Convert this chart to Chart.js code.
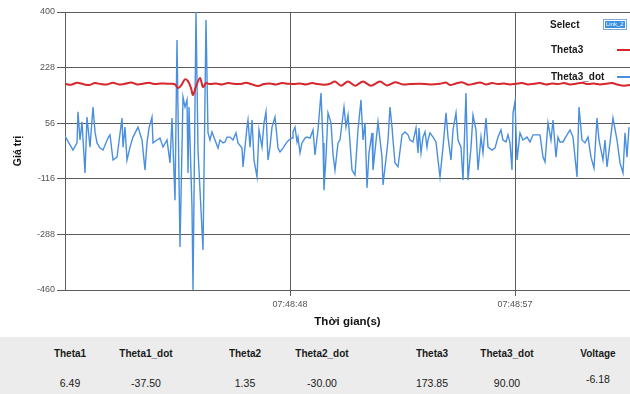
<!DOCTYPE html>
<html>
<head>
<meta charset="utf-8">
<script src="https://cdn.jsdelivr.net/npm/chart.js@4/dist/chart.umd.min.js"></script>
<style>
  html, body { margin: 0; padding: 0; background: #fff; }
  #wrap { position: relative; width: 630px; height: 394px; overflow: hidden;
          font-family: 'Liberation Sans Narrow', 'Liberation Sans', Arial, sans-serif; }
  #chart { position: absolute; left: 0; top: 0; }
  .lg { position: absolute; font-weight: bold; font-size: 10px; line-height: 12px; color: #1a1a1a; white-space: nowrap; }
  .sw { position: absolute; left: 617px; width: 14px; height: 2px; }
  #sel { position: absolute; left: 603px; top: 19px; width: 24px; height: 11px; border: 1px solid #7ea6d8;
         background: #fff; box-sizing: border-box; padding: 1px; }
  #sel span { display: block; height: 100%; background: #3b8fe4; color: #fff; font-size: 6px; line-height: 7px; padding-left: 1px; }
  #panel { position: absolute; left: 0; top: 337px; width: 630px; height: 57px; background: #ececec; }
  .cell { position: absolute; transform: translateX(-50%); white-space: nowrap; color: #1a1a1a; }
  .hd { font-weight: bold; font-size: 10px; top: 11px; }
  .vl { font-size: 10.5px; top: 40px; }
</style>
</head>
<body>
<div id="wrap">
  <canvas id="chart" width="630" height="338"></canvas>
  <div class="lg" style="left:550px;top:19px">Select</div>
  <div id="sel"><span>Link_2</span></div>
  <div class="lg" style="left:551px;top:44px">Theta3</div>
  <div class="sw" style="top:49px;background:#d7262c"></div>
  <div class="lg" style="left:551px;top:71px">Theta3_dot</div>
  <div class="sw" style="top:76px;background:#4a8fdf"></div>
  <div id="panel"></div>
</div>
<script>
// Theta3_dot samples: time (seconds after 07:48:00) and value
const theta3DotTime = [
  39.00,39.32,39.48,39.52,39.60,39.68,39.80,39.88,40.00,40.12,
  40.20,40.28,40.40,40.52,40.72,40.80,40.92,41.08,41.28,41.32,
  41.40,41.48,41.60,41.72,41.92,42.08,42.20,42.28,42.36,42.48,
  42.52,42.68,42.80,42.92,43.08,43.20,43.28,43.40,43.48,43.60,
  43.72,43.80,43.88,43.92,43.96,44.08,44.12,44.24,44.32,44.52,
  44.64,44.72,44.80,44.88,45.00,45.12,45.20,45.32,45.40,45.48,
  45.60,45.72,45.84,45.92,46.08,46.12,46.28,46.32,46.40,46.48,
  46.56,46.68,46.76,46.88,46.96,47.04,47.12,47.20,47.28,47.40,
  47.48,47.52,47.60,47.72,47.88,47.96,48.08,48.12,48.20,48.28,
  48.32,48.40,48.48,48.60,48.68,48.80,48.92,49.00,49.12,49.24,
  49.32,49.36,49.44,49.52,49.64,49.72,49.80,49.92,50.00,50.16,
  50.24,50.32,50.48,50.60,50.72,50.84,50.92,51.00,51.08,51.16,
  51.28,51.32,51.48,51.52,51.68,51.72,51.88,51.92,52.00,52.08,
  52.12,52.20,52.32,52.48,52.60,52.72,52.80,52.92,53.04,53.12,
  53.16,53.24,53.32,53.40,53.48,53.52,53.60,53.72,53.84,53.92,
  54.00,54.12,54.24,54.32,54.44,54.52,54.64,54.72,54.84,54.92,
  55.04,55.12,55.24,55.32,55.44,55.52,55.64,55.72,55.84,55.92,
  56.08,56.20,56.32,56.44,56.52,56.64,56.72,56.80,56.88,56.92,
  57.00,57.08,57.20,57.32,57.48,57.60,57.72,57.88,58.00,58.12,
  58.20,58.32,58.44,58.52,58.64,58.72,58.80,58.92,59.08,59.20,
  59.32,59.48,59.56,59.68,59.80,59.92,60.04,60.16,60.28,60.36,
  60.52,60.60,60.68,60.80,60.92,61.08,61.20,61.32,61.40,61.48,
  61.56
];
const theta3DotValue = [
  16,-27,-5,91,4,60,-98,75,-18,106,
  29,-5,-21,-27,10,20,-58,-49,72,-18,
  44,-58,-18,13,44,4,-89,-5,41,75,
  -5,4,10,-18,4,-67,72,-182,313,-327,
  137,106,128,-98,106,-203,-460,400,-27,-336,
  375,26,4,29,4,-21,4,-5,-2,13,
  13,4,26,-5,-21,-79,44,66,-18,66,
  -58,-110,35,-18,57,91,-58,-18,44,75,
  13,-21,-33,-21,-2,4,10,29,44,-2,
  13,-36,-5,10,13,10,35,-42,35,149,
  -5,-151,-49,88,57,-40,-89,-5,4,106,
  44,81,-89,-104,35,128,4,57,-144,-36,
  26,-89,29,60,-49,-135,-27,4,106,44,
  4,-67,-79,20,29,20,4,-2,41,-36,
  41,-36,13,29,-18,4,26,13,-2,-58,
  -110,-18,88,13,-58,35,88,4,-18,-120,
  149,-120,-18,81,35,-89,13,-36,72,-18,
  -27,-21,13,35,4,-2,20,-5,-89,88,
  122,-58,26,4,13,-2,20,20,20,-49,
  -64,57,4,66,-49,13,-2,-2,20,35,
  13,-110,106,4,-5,13,-49,-83,72,4,
  -58,4,-79,-5,72,4,-67,-98,26,-49,
  44
];

// Theta3 samples
const theta3Time = [
  39.00,39.24,39.48,39.72,39.96,40.20,40.44,40.68,40.92,41.16,
  41.40,41.64,41.88,42.12,42.36,42.60,42.84,43.08,43.28,43.40,
  43.52,43.64,43.80,43.92,44.04,44.12,44.24,44.40,44.52,44.64,
  44.80,45.04,45.28,45.52,45.76,46.00,46.24,46.48,46.72,46.96,
  47.20,47.44,47.68,47.92,48.16,48.40,48.64,48.88,49.12,49.36,
  49.60,49.80,50.04,50.32,50.60,50.92,51.24,51.60,51.88,52.20,
  52.52,52.80,53.20,53.60,54.00,54.24,54.40,54.64,54.88,55.12,
  55.36,55.60,55.84,56.08,56.32,56.56,56.80,57.04,57.28,57.52,
  57.76,58.00,58.24,58.48,58.72,58.96,59.20,59.44,59.68,59.92,
  60.16,60.40,60.64,60.88,61.12,61.36,61.60
];
const theta3Value = [
  178,175,181,177,174,180,177,176,181,176,
  178,182,176,178,181,177,179,178,178,176,
  165,172,192,186,165,143,170,196,168,180,
  177,179,176,180,178,177,181,176,171,177,
  179,176,180,178,177,179,176,180,177,175,
  178,185,172,185,172,185,172,185,173,183,
  176,177,178,176,178,182,174,179,183,175,
  178,182,176,180,177,179,176,178,180,176,
  178,180,176,179,177,180,176,178,181,177,
  179,176,178,180,175,172,174
];

// Axis ticks
const yTickValues = [-460, -288, -116, 56, 228, 400];
const xTickValues = [48, 57];

// Readout panel
const statNames  = ['Theta1', 'Theta1_dot', 'Theta2', 'Theta2_dot', 'Theta3', 'Theta3_dot', 'Voltage'];
const statValues = ['6.49', '-37.50', '1.35', '-30.00', '173.85', '90.00', '-6.18'];
const statCenters = [70, 146, 245, 322, 432, 507, 598];

const FONT = "'Liberation Sans Narrow', 'Liberation Sans', Arial, sans-serif";
const GRID = '#5c5c5c';

function clock(sec) {
  const m = 48 + Math.floor(sec / 60);
  const s = Math.round(sec % 60);
  return '07:' + String(m).padStart(2, '0') + ':' + String(s).padStart(2, '0');
}

new Chart(document.getElementById('chart'), {
  type: 'line',
  data: {
    datasets: [
      {
        label: 'Theta3_dot',
        data: theta3DotTime.map((t, i) => ({ x: t, y: theta3DotValue[i] })),
        borderColor: '#4a8fdf',
        borderWidth: 1.4,
        pointRadius: 0,
        tension: 0,
        order: 2
      },
      {
        label: 'Theta3',
        data: theta3Time.map((t, i) => ({ x: t, y: theta3Value[i] })),
        borderColor: '#d7262c',
        borderWidth: 2,
        pointRadius: 0,
        tension: 0.3,
        order: 1
      }
    ]
  },
  options: {
    responsive: false,
    animation: false,
    devicePixelRatio: 1,
    layout: { padding: { top: 12, right: 0, left: 0, bottom: 0 } },
    plugins: { legend: { display: false }, tooltip: { enabled: false } },
    scales: {
      x: {
        type: 'linear',
        min: 39,
        max: 61.6,
        afterBuildTicks: s => { s.ticks = xTickValues.map(v => ({ value: v })); },
        afterFit: s => { s.height = 48; },
        ticks: {
          callback: v => clock(v),
          color: '#555',
          font: { size: 9, family: FONT },
          padding: 3,
          maxRotation: 0,
          autoSkip: false
        },
        grid: { color: GRID, lineWidth: 1, tickLength: 6 },
        border: { color: GRID, width: 1 },
        title: {
          display: true,
          text: 'Thời gian(s)',
          color: '#111',
          font: { size: 11.5, weight: 'bold', family: FONT },
          padding: { top: 2, bottom: 9 }
        }
      },
      y: {
        min: -460,
        max: 400,
        afterBuildTicks: s => { s.ticks = yTickValues.map(v => ({ value: v })); },
        afterFit: s => { s.width = 65; },
        ticks: {
          callback: v => String(v),
          color: '#555',
          font: { size: 9, family: FONT },
          padding: 2
        },
        grid: { color: GRID, lineWidth: 1, tickLength: 8 },
        border: { color: GRID, width: 1 },
        title: {
          display: true,
          text: 'Giá trị',
          color: '#111',
          font: { size: 10.5, weight: 'bold', family: FONT },
          padding: { top: 12, bottom: 0 }
        }
      }
    }
  }
});

const panel = document.getElementById('panel');
statNames.forEach((name, i) => {
  const h = document.createElement('div');
  h.className = 'cell hd';
  h.style.left = statCenters[i] + 'px';
  h.textContent = name;
  panel.appendChild(h);
  const v = document.createElement('div');
  v.className = 'cell vl';
  v.style.left = statCenters[i] + 'px';
  if (name === 'Voltage') v.style.top = '36px';
  v.textContent = statValues[i];
  panel.appendChild(v);
});
</script>
</body>
</html>
